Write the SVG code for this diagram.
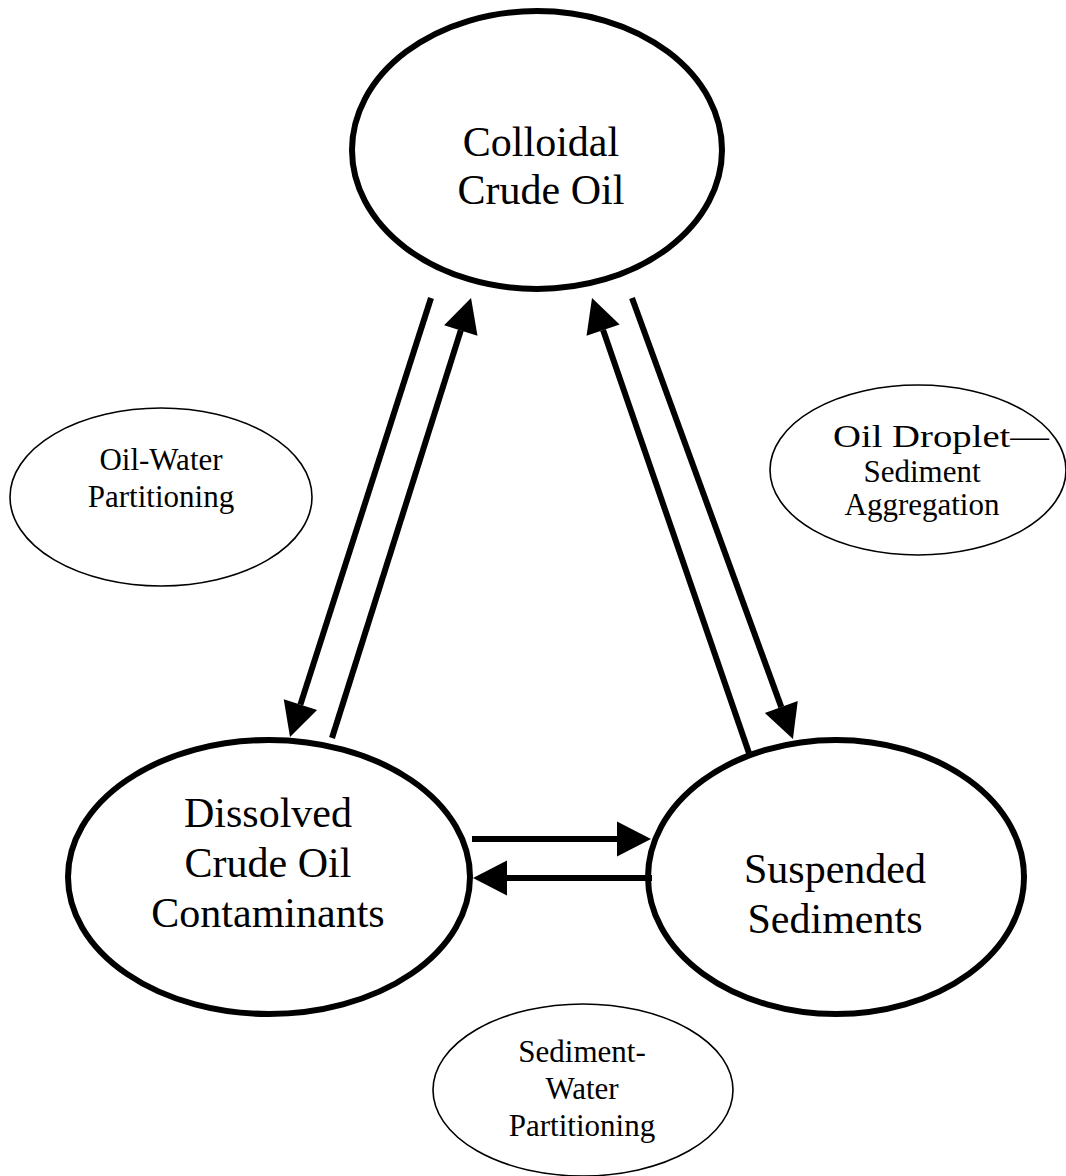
<svg xmlns="http://www.w3.org/2000/svg" width="1066" height="1176" viewBox="0 0 1066 1176">
<style>
.big{fill:#fff;stroke:#000;stroke-width:6}
.small{fill:#fff;stroke:#000;stroke-width:1.6}
.tb{font-family:"Liberation Serif","Times New Roman",serif;font-size:42px;fill:#000;text-anchor:middle}
.ts{font-family:"Liberation Serif","Times New Roman",serif;font-size:31px;fill:#000;text-anchor:middle}
.c{stroke:#000;stroke-width:6;fill:none;marker-end:url(#ah)}
</style>
<defs>
<marker id="ah" markerUnits="userSpaceOnUse" markerWidth="36" markerHeight="36" viewBox="0 -18 34 36" refX="0" refY="0" orient="auto">
<path d="M0,-17.5 L34,0 L0,17.5 Z" fill="#000"/>
</marker>
</defs>
<rect width="1066" height="1176" fill="#fff"/>
<g id="colloidal">
<ellipse class="big" cx="537" cy="150" rx="185" ry="139"/>
<text class="tb" x="541" y="156">Colloidal</text>
<text class="tb" x="541" y="204">Crude Oil</text>
</g>
<g id="dissolved">
<ellipse class="big" cx="269" cy="877" rx="201" ry="137"/>
<text class="tb" x="268" y="827">Dissolved</text>
<text class="tb" x="268" y="877">Crude Oil</text>
<text class="tb" x="268" y="927">Contaminants</text>
</g>
<g id="suspended">
<ellipse class="big" cx="836" cy="877" rx="188" ry="137"/>
<text class="tb" x="835" y="883">Suspended</text>
<text class="tb" x="835" y="933">Sediments</text>
</g>
<g id="oil-water">
<ellipse class="small" cx="161" cy="497" rx="151" ry="89"/>
<text class="ts" x="161" y="470">Oil-Water</text>
<text class="ts" x="161" y="507">Partitioning</text>
</g>
<g id="oil-droplet">
<ellipse class="small" cx="918" cy="470" rx="148" ry="85"/>
<text class="ts" x="833" y="447" style="text-anchor:start" textLength="216" lengthAdjust="spacingAndGlyphs">Oil Droplet—</text>
<text class="ts" x="922" y="482">Sediment</text>
<text class="ts" x="922" y="515">Aggregation</text>
</g>
<g id="sediment-water">
<ellipse class="small" cx="583" cy="1090" rx="150" ry="86"/>
<text class="ts" x="582" y="1062">Sediment-</text>
<text class="ts" x="582" y="1099">Water</text>
<text class="ts" x="582" y="1136">Partitioning</text>
</g>
<g id="connectors">
<path class="c" d="M431,298 L300.4,704.6"/>
<path class="c" d="M332,738 L460.8,330.4"/>
<path class="c" d="M632,298 L781.3,707.1"/>
<path class="c" d="M750,756 L603.1,330.1"/>
<path class="c" d="M472,839 L617,839"/>
<path class="c" d="M652,878 L507,878"/>
</g>
</svg>
